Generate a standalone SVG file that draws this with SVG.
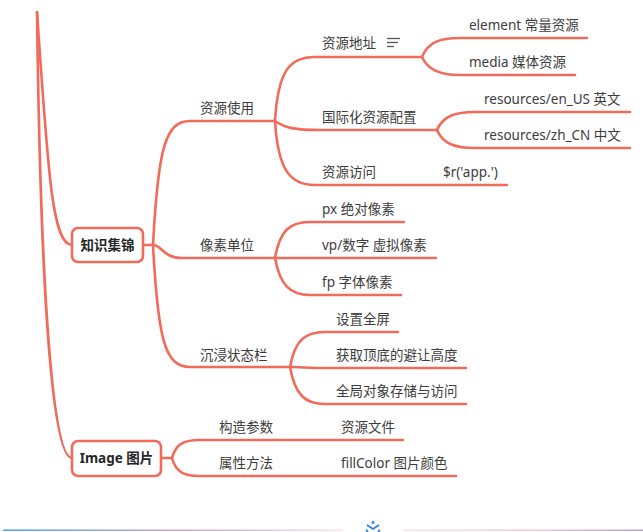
<svg xmlns="http://www.w3.org/2000/svg" width="643" height="532" viewBox="0 0 643 532">
<style>
.c{fill:none;stroke:#f26b5a;stroke-width:2.6;stroke-linecap:round}
.box{fill:#fff;stroke:#f26b5a;stroke-width:2.6}
text{font-family:"Noto Sans","Noto Sans CJK SC",sans-serif;font-size:13.5px;fill:#3c3c3c}
.b{font-weight:bold;fill:#262626}
.ic{stroke:#555;stroke-width:1.3}
</style>
<defs>
<linearGradient id="gl" x1="0" y1="0" x2="1" y2="0">
<stop offset="0" stop-color="#47a2f3"/><stop offset="0.5" stop-color="#c9a6d2"/><stop offset="1" stop-color="#fde2e6"/>
</linearGradient>
<linearGradient id="gr" x1="0" y1="0" x2="1" y2="0">
<stop offset="0" stop-color="#fde2e6"/><stop offset="0.6" stop-color="#f3c4d2"/><stop offset="1" stop-color="#b3a3d8"/>
</linearGradient>
</defs>
<rect width="643" height="532" fill="#fff"/>
<g id="connectors">
<path class="c" d="M37,12 C48,170 52,245 72,245"/>
<path class="c" d="M37,12 C40,250 50,458 72,458"/>
<path class="c" d="M143,245 H153"/>
<path class="c" d="M153,245 C158,150 165,121 190,121 H275"/>
<path class="c" d="M153,245 C162,245 163,258 182,258 H275"/>
<path class="c" d="M153,245 C158,340 165,367 190,367 H290"/>
<path class="c" d="M275,121 C278,70 290,57 315,57 H422"/>
<path class="c" d="M275,121 C285,128 295,130 320,130 H437"/>
<path class="c" d="M275,121 C278,170 290,185 315,185 H507"/>
<path class="c" d="M422,57 C428,42 440,38 460,38 H587"/>
<path class="c" d="M422,57 C428,70 440,75 460,75 H575"/>
<path class="c" d="M437,130 C443,116 455,112 475,112 H630"/>
<path class="c" d="M437,130 C443,144 455,148 475,148 H630"/>
<path class="c" d="M275,258 C280,230 290,222 310,222 H404"/>
<path class="c" d="M275,258 H436"/>
<path class="c" d="M275,258 C280,285 290,295 310,295 H401"/>
<path class="c" d="M290,367 C295,340 305,332 325,332 H398"/>
<path class="c" d="M290,367 C300,367 310,368 325,368 H466"/>
<path class="c" d="M290,367 C295,395 305,404 325,404 H466"/>
<path class="c" d="M161,458 H172"/>
<path class="c" d="M172,458 C176,443 185,440 200,440 H403"/>
<path class="c" d="M172,458 C176,473 185,476 200,476 H456"/>
</g>
<g id="n-zhishi">
<rect class="box" x="72" y="228" width="71" height="34" rx="6"/>
<text class="b" x="107.5" y="250" text-anchor="middle">知识集锦</text>
</g>
<g id="n-image">
<rect class="box" x="72" y="441" width="89" height="35" rx="6"/>
<text class="b" x="116.5" y="463" text-anchor="middle">Image 图片</text>
</g>
<g id="n-ziyuanshiyong"><text x="200" y="113">资源使用</text></g>
<g id="n-xiangsudanwei"><text x="200" y="250">像素单位</text></g>
<g id="n-chenjin"><text x="200" y="360">沉浸状态栏</text></g>
<g id="n-ziyuandizhi"><text x="322" y="48">资源地址</text>
<line class="ic" x1="387" y1="38.5" x2="400" y2="38.5"/>
<line class="ic" x1="387" y1="42.5" x2="398" y2="42.5"/>
<line class="ic" x1="387" y1="46.5" x2="394" y2="46.5"/>
</g>
<g id="n-guojihua"><text x="322" y="122">国际化资源配置</text></g>
<g id="n-ziyuanfangwen"><text x="322" y="177">资源访问</text></g>
<g id="n-r"><text x="443" y="177">$r('app.')</text></g>
<g id="n-element"><text x="469" y="30">element 常量资源</text></g>
<g id="n-media"><text x="469" y="67">media 媒体资源</text></g>
<g id="n-enus"><text x="484" y="104">resources/en_US 英文</text></g>
<g id="n-zhcn"><text x="484" y="140">resources/zh_CN 中文</text></g>
<g id="n-px"><text x="322" y="214">px 绝对像素</text></g>
<g id="n-vp"><text x="322" y="250">vp/数字 虚拟像素</text></g>
<g id="n-fp"><text x="322" y="287">fp 字体像素</text></g>
<g id="n-quanping"><text x="336" y="324">设置全屏</text></g>
<g id="n-birang"><text x="336" y="360">获取顶底的避让高度</text></g>
<g id="n-quanju"><text x="336" y="396">全局对象存储与访问</text></g>
<g id="n-gouzao"><text x="219" y="432">构造参数</text></g>
<g id="n-shuxing"><text x="219" y="468">属性方法</text></g>
<g id="n-ziyuanwenjian"><text x="341" y="432">资源文件</text></g>
<g id="n-fillcolor"><text x="341" y="468">fillColor 图片颜色</text></g>
<g id="bottom-bar">
<rect x="3" y="529.5" width="340" height="1.5" fill="url(#gl)"/>
<rect x="403" y="529.5" width="240" height="1.5" fill="url(#gr)"/>
<circle cx="373" cy="522.5" r="1.4" fill="#2b7cf0"/>
<path d="M367,525 L373,529 L379,525" fill="none" stroke="#2b7cf0" stroke-width="1.8"/>
<path d="M366,530 L368,532 M380,530 L378,532" fill="none" stroke="#2b7cf0" stroke-width="1.8"/>
</g>
</svg>
